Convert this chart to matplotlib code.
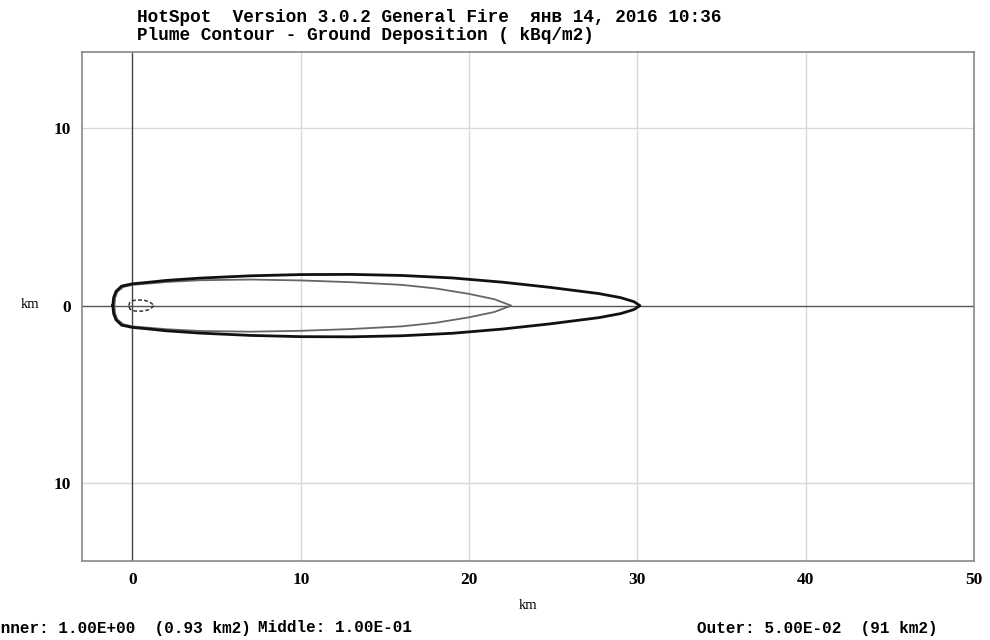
import matplotlib
matplotlib.use("Agg")
import matplotlib.pyplot as plt
import numpy as np

title_lines = ["HotSpot  Version 3.0.2 General Fire  янв 14, 2016 10:36",
               "Plume Contour - Ground Deposition ( kBq/m2)"]

# upper half of each contour (km downwind, km crosswind); plume is symmetric
outer_x = [-1.17, -1.12, -0.98, -0.65, 0.0, 1.0, 2.0, 4.0, 7.0, 10.0, 13.0, 16.0,
           19.0, 22.0, 24.8, 27.7, 29.0, 29.8, 30.15]
outer_y = [0.0, 0.45, 0.8, 1.1, 1.23, 1.32, 1.42, 1.55, 1.68, 1.75, 1.76, 1.7,
           1.56, 1.32, 1.03, 0.68, 0.45, 0.22, 0.0]

middle_x = [-1.08, -1.03, -0.9, -0.55, 0.0, 1.0, 2.0, 4.0, 7.0, 10.0, 13.0, 16.0,
            18.0, 20.0, 21.5, 22.5]
middle_y = [0.0, 0.45, 0.78, 1.05, 1.17, 1.25, 1.33, 1.43, 1.47, 1.42, 1.32, 1.17,
            0.97, 0.66, 0.36, 0.0]

inner_x = [-0.22, -0.16, 0.0, 0.3, 0.7, 1.0, 1.3]
inner_y = [0.0, 0.18, 0.28, 0.32, 0.3, 0.22, 0.0]

xticks = [0, 10, 20, 30, 40, 50]
yticks = [-10, 0, 10]
ytick_labels = ["10", "0", "10"]

footer = [(-0.009, "Inner: 1.00E+00  (0.93 km2)"),
          (0.261, "Middle: 1.00E-01"),
          (0.704, "Outer: 5.00E-02  (91 km2)")]


def closed(xs, ys):
  xs = np.array(xs)
  ys = np.array(ys)
  return np.concatenate([xs, xs[::-1]]), np.concatenate([ys, -ys[::-1]])


mono = "Liberation Mono"
serif = "Liberation Serif"

fig = plt.figure(figsize=(9.9, 6.4), dpi=100)
ax = fig.add_axes([82/990, 1-561/640, (974-82)/990, (561-52)/640])

ax.set_xlim(-3.0, 50)
ax.set_ylim(-14.4, 14.3)

for v in [10, 20, 30, 40]:
  ax.axvline(v, color="#d8d8d8", lw=1.0, zorder=1)
for v in [-10, 10]:
  ax.axhline(v, color="#d8d8d8", lw=1.0, zorder=1)
ax.axvline(0, color="#444444", lw=1.0, zorder=2)
ax.axhline(0, color="#555555", lw=1.0, zorder=2)

ox, oy = closed(outer_x, outer_y)
ax.plot(ox, oy, color="#111111", lw=2.0, zorder=4)
mx, my = closed(middle_x, middle_y)
ax.plot(mx, my, color="#666666", lw=1.3, zorder=3)
ix, iy = closed(inner_x, inner_y)
ax.plot(ix, iy, color="#333333", lw=1.1, ls=(0, (2.5, 1.5)), zorder=5)

for s in ax.spines.values():
  s.set_color("#888888")
  s.set_linewidth(1.2)

ax.set_xticks(xticks)
ax.set_xticklabels([str(t) for t in xticks], fontfamily=serif, fontweight="bold", fontsize=12.5)
ax.set_yticks(yticks)
ax.set_yticklabels(ytick_labels, fontfamily=serif, fontweight="bold", fontsize=12.5)
ax.tick_params(axis="x", length=0, pad=8)
ax.tick_params(axis="y", length=0, pad=8)

ax.set_xlabel("km", fontfamily=serif, fontsize=10.5, labelpad=8)
fig.text(30/990, 1-305/640, "km", fontfamily=serif, fontsize=10.5, va="center", ha="center")

fig.text(137/990, 1-17/640, title_lines[0], fontfamily=mono, fontweight="bold", fontsize=12.8, va="center")
fig.text(137/990, 1-36/640, title_lines[1], fontfamily=mono, fontweight="bold", fontsize=12.8, va="center")

for x, t in footer:
  fig.text(x, 1-628/640, t, fontfamily=mono, fontweight="bold", fontsize=11.5, va="center")

fig.savefig("out.png", dpi=100)
